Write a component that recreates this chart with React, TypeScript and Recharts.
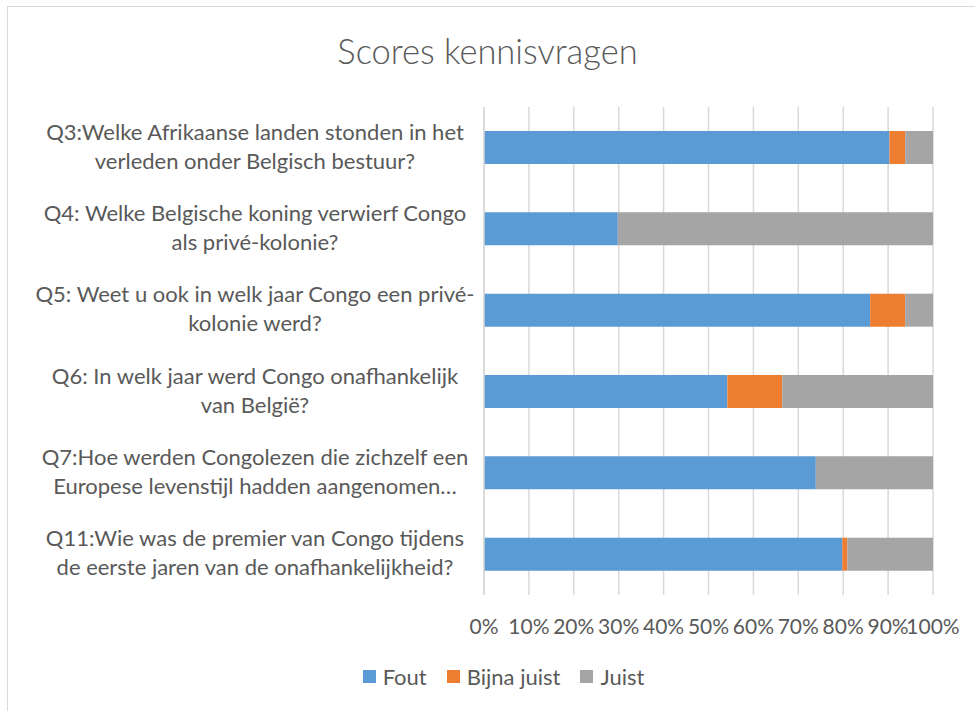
import { BarChart, Bar, XAxis, YAxis, CartesianGrid, Legend } from 'recharts'

const questions = [
  ['Q3:Welke Afrikaanse landen stonden in het', 'verleden onder Belgisch bestuur?'],
  ['Q4: Welke Belgische koning verwierf Congo', 'als privé-kolonie?'],
  ['Q5: Weet u ook in welk jaar Congo een privé-', 'kolonie werd?'],
  ['Q6: In welk jaar werd Congo onafhankelijk', 'van België?'],
  ['Q7:Hoe werden Congolezen die zichzelf een', 'Europese levenstijl hadden aangenomen…'],
  ['Q11:Wie was de premier van Congo tijdens', 'de eerste jaren van de onafhankelijkheid?'],
]
const fout = [90.3, 29.8, 86.0, 54.2, 73.9, 79.8]
const bijnaJuist = [3.5, 0, 7.8, 12.2, 0, 1.1]
const juist = [6.2, 70.2, 6.2, 33.6, 26.1, 19.1]
const xTicks = [0, 10, 20, 30, 40, 50, 60, 70, 80, 90, 100]

const series = [
  { key: 'fout', name: 'Fout', color: '#5B9BD5' },
  { key: 'bijna', name: 'Bijna juist', color: '#ED7D31' },
  { key: 'juist', name: 'Juist', color: '#A5A5A5' },
]

const data = questions.map((q, i) => ({
  name: q.join('\n'),
  fout: fout[i],
  bijna: bijnaJuist[i],
  juist: juist[i],
}))

const FONT = 'Lato, sans-serif'
const TEXT = '#595959'

function QuestionTick({ y, payload }: any) {
  const lines = String(payload.value).split('\n')
  return (
    <text x={255} y={y} textAnchor="middle" fill={TEXT} fontSize={22} fontFamily={FONT}>
      <tspan x={255} dy={-8}>{lines[0]}</tspan>
      <tspan x={255} dy={29}>{lines[1]}</tspan>
    </text>
  )
}

function LegendContent() {
  return (
    <div style={{ display: 'flex', justifyContent: 'center', alignItems: 'center', fontFamily: FONT, fontSize: 22, color: TEXT }}>
      {series.map((s) => (
        <div key={s.key} style={{ display: 'flex', alignItems: 'center', margin: '0 10px' }}>
          <span style={{ width: 13, height: 13, background: s.color, display: 'inline-block', marginRight: 7 }} />
          <span>{s.name}</span>
        </div>
      ))}
    </div>
  )
}

export default function App() {
  return (
    <div style={{ position: 'fixed', left: 0, top: 0, width: 975, height: 711, background: '#fff', overflow: 'hidden' }}>
      <div style={{ position: 'absolute', left: 7, top: 6, width: 1000, height: 800, border: '1px solid #d9d9d9', boxSizing: 'border-box' }} />
      <div style={{ position: 'absolute', left: 0, top: 31, width: 975, textAlign: 'center', fontFamily: FONT, fontWeight: 300, fontSize: 34.5, color: TEXT, lineHeight: '40px' }}>
        Scores kennisvragen
      </div>
      <BarChart
        width={975}
        height={711}
        data={data}
        layout="vertical"
        barSize={33}
        margin={{ top: 107, right: 42, bottom: 86, left: 0 }}
        style={{ position: 'absolute', left: 0, top: 0 }}
      >
        <CartesianGrid horizontal={false} stroke="#d9d9d9" strokeWidth={1.5} />
        <XAxis
          type="number"
          domain={[0, 100]}
          ticks={xTicks}
          tickFormatter={(v) => `${v}%`}
          axisLine={false}
          tickLine={false}
          tick={{ fill: TEXT, fontSize: 21, fontFamily: FONT }}
          tickMargin={18}
          interval={0}
        />
        <YAxis
          type="category"
          dataKey="name"
          width={484}
          axisLine={{ stroke: '#d9d9d9', strokeWidth: 1.5 }}
          tickLine={false}
          tick={<QuestionTick />}
          interval={0}
        />
        <Legend
          verticalAlign="middle"
          align="center"
          layout="horizontal"
          content={<LegendContent />}
          wrapperStyle={{ position: 'absolute', top: 663, left: 16, width: 975 }}
        />
        {series.map((s) => (
          <Bar key={s.key} dataKey={s.key} name={s.name} stackId="a" fill={s.color} isAnimationActive={false} />
        ))}
      </BarChart>
    </div>
  )
}
